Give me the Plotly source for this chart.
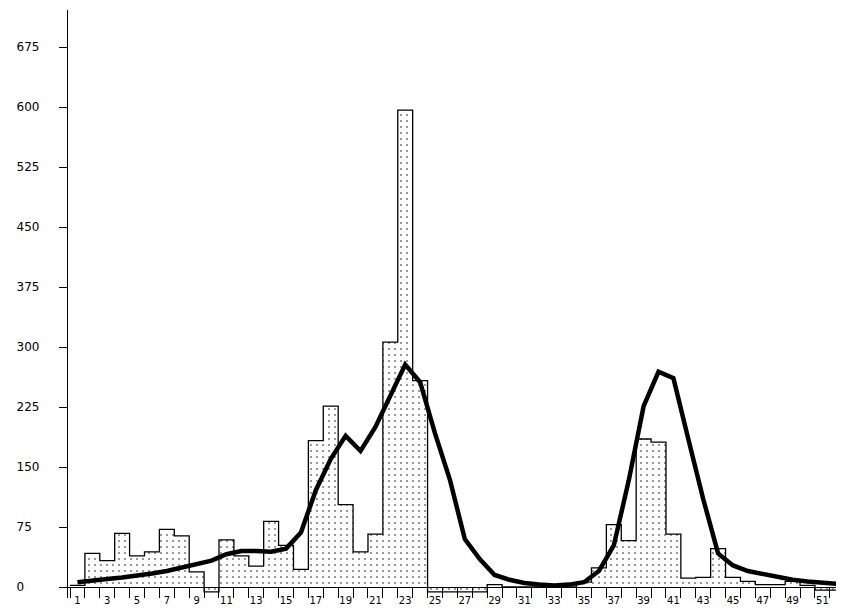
import plotly.graph_objects as go

# ---- data ----
weeks = list(range(1, 53))
cases = [2, 42, 33, 67, 39, 44, 72, 64, 19, -6,
         59, 39, 26, 82, 52, 22, 183, 226, 103, 44,
         66, 306, 596, 258, -6, -6, -6, -6, 3, 0,
         0, 0, 0, 0, 6, 24, 78, 58, 185, 181,
         66, 11, 12, 48, 12, 7, 3, 3, 7, 2,
         -4, -4]
trend = [6, 8.5, 10, 12, 14, 17, 20, 24, 28, 33,
         41, 45, 45, 44, 48, 68, 121, 160, 189, 170,
         200, 240, 278, 256, 192, 134, 60, 35, 15, 9,
         5, 3, 2, 3, 6, 20, 52, 133, 226, 269,
         261, 185, 110, 42, 27, 20, 16, 12, 9, 7,
         5, 4]
y_ticks = [0, 75, 150, 225, 300, 375, 450, 525, 600, 675]
x_label_weeks = [w for w in weeks if w % 2 == 1]

# week boundaries for the step outline and the tick marks
edges = [w - 0.5 for w in weeks] + [weeks[-1] + 0.5]
outline_y = cases + [cases[-1]]

FONT = "DejaVu Sans"

fig = go.Figure()

fig.add_trace(go.Bar(
    x=weeks, y=cases, width=1,
    marker=dict(color="white", line=dict(width=0),
                pattern=dict(shape=".", fgcolor="black", bgcolor="white",
                             size=6, solidity=0.1)),
    showlegend=False, hoverinfo="skip",
))
fig.add_trace(go.Scatter(
    x=edges, y=outline_y, mode="lines", line=dict(color="black", width=1.3, shape="hv"),
    showlegend=False, hoverinfo="skip",
))
fig.add_trace(go.Scatter(
    x=weeks, y=trend, mode="lines", line=dict(color="black", width=4.5),
    showlegend=False,
))

ytext = [str(v).ljust(3, "\u2007") for v in y_ticks]

# the page body has an 8px margin, so the figure is 8px smaller than the window
fig.update_layout(
    width=836, height=602,
    margin=dict(l=60, r=0, t=2, b=12, autoexpand=False),
    paper_bgcolor="white", plot_bgcolor="white",
    bargap=0,
    font=dict(family=FONT, size=12, color="black"),
    xaxis=dict(
        range=[0.366, 52.45],
        anchor="free", position=0.0187, automargin=False,
        showgrid=False, zeroline=False,
        showline=True, linecolor="black", linewidth=1.3,
        tickmode="array", tickvals=x_label_weeks,
        ticktext=[str(w) for w in x_label_weeks],
        ticks="outside", ticklen=4, tickcolor="rgba(0,0,0,0)",
        tickfont=dict(family=FONT, size=10, color="black"),
        minor=dict(tickmode="array", tickvals=edges, ticks="outside",
                   ticklen=10, tickwidth=1.3, tickcolor="black", showgrid=False),
    ),
    yaxis=dict(
        range=[-13.75, 721.25], automargin=False,
        showgrid=False, zeroline=False,
        showline=True, linecolor="black", linewidth=1.3,
        tickmode="array", tickvals=y_ticks, ticktext=ytext,
        ticks="outside", ticklen=8, tickwidth=1.3, tickcolor="black",
        ticklabelstandoff=17,
        tickfont=dict(family=FONT, size=12, color="black"),
    ),
)

fig.write_html("out.html")
